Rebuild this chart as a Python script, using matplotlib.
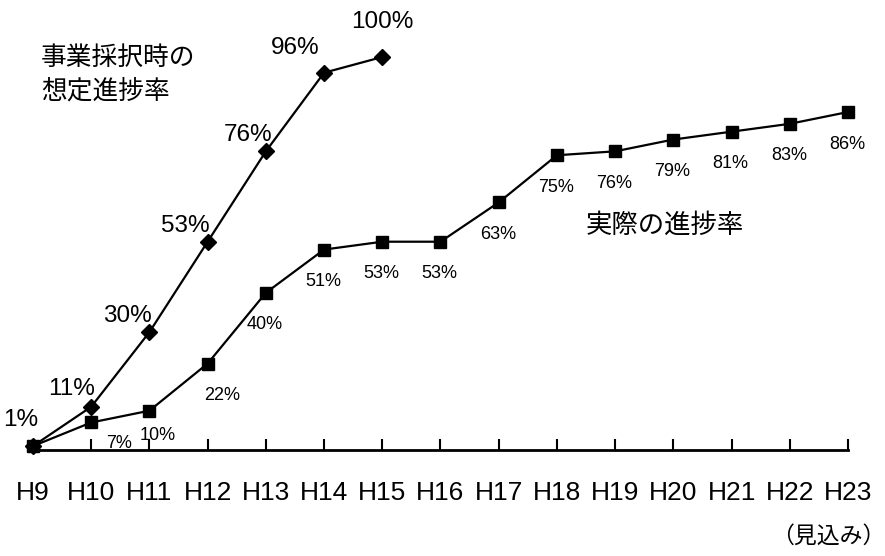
import matplotlib
matplotlib.use('Agg')
import matplotlib.pyplot as plt

plt.rcParams['font.family'] = ['Liberation Sans', 'Noto Sans CJK JP', 'DejaVu Sans']
JP = ['Noto Sans CJK JP', 'DejaVu Sans']

years = ['H9', 'H10', 'H11', 'H12', 'H13', 'H14', 'H15', 'H16',
         'H17', 'H18', 'H19', 'H20', 'H21', 'H22', 'H23']
planned = [1, 11, 30, 53, 76, 96, 100]
actual = [1, 7, 10, 22, 40, 51, 53, 53, 63, 75, 76, 79, 81, 83, 86]

# label offsets in pixels (dx, dy) from each marker
planned_off = [(-12, 26), (-20, 18), (-22, 16), (-22, 16), (-18, 16),
               (-29, 25), (0, 35)]
actual_off = [(28, -21), (8, -25), (14, -32)] + [(-1, -32)] * 11

W, H = 885, 556
fig = plt.figure(figsize=(W / 100, H / 100), dpi=100)
ax = fig.add_axes([33 / W, (H - 450) / H, (848 - 33) / W, (450 - 57) / H])

ax.plot(range(len(planned)), planned, color='black', lw=1.6, marker='D',
        ms=8.5, clip_on=False, zorder=3)
ax.plot(range(len(actual)), actual, color='black', lw=1.6, marker='s',
        ms=8.5, clip_on=False, zorder=3)

for i, v in enumerate(planned):
    ax.annotate(f'{v}%', (i, v), xytext=planned_off[i],
                textcoords='offset pixels', ha='center', va='center',
                fontsize=17.5)
for i, v in enumerate(actual[1:], start=1):
    ax.annotate(f'{v}%', (i, v), xytext=actual_off[i - 1],
                textcoords='offset pixels', ha='center', va='center',
                fontsize=13)


def px(x, y):
    return x / W, 1 - y / H


fig.text(*px(41, 58), '事業採択時の', fontsize=18.5, ha='left',
         va='center', family=JP)
fig.text(*px(41, 92), '想定進捗率', fontsize=18.5, ha='left',
         va='center', family=JP)
fig.text(*px(665, 225), '実際の進捗率', fontsize=19, ha='center',
         va='center', family=JP)
fig.text(*px(828, 536), '（見込み）', fontsize=16.5, ha='center',
         va='center', family=JP)

ax.set_xlim(0, len(years) - 1)
ax.set_ylim(0, 100)
ax.set_xticks(range(len(years)))
ax.set_xticklabels(years, fontsize=19)
ax.tick_params(axis='x', direction='in', length=8, width=1.5, pad=22)
ax.set_yticks([])
for side in ['top', 'right', 'left']:
    ax.spines[side].set_visible(False)
ax.spines['bottom'].set_linewidth(2)

fig.savefig('out.png', dpi=100)
